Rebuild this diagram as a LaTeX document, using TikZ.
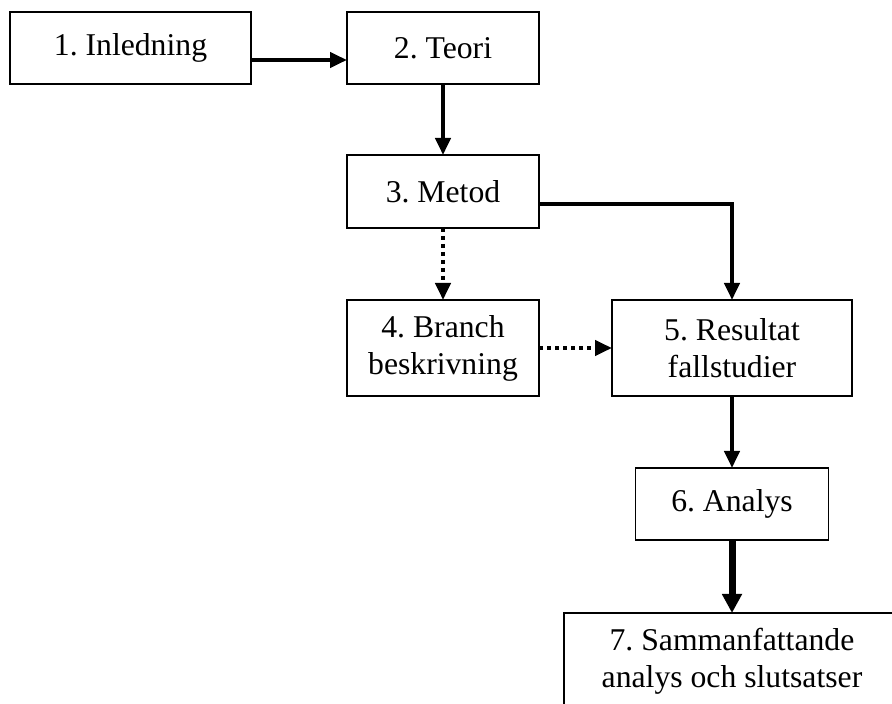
\documentclass[tikz,border=0pt]{standalone}
\usepackage{fontspec}
\setmainfont{Liberation Serif}
\usepackage{tikz}
\usetikzlibrary{positioning,arrows.meta}
\frenchspacing

\begin{document}
\begin{tikzpicture}[
  x=1pt, y=1pt,
  chapter/.style={rectangle, draw=black, line width=1.8pt, outer sep=0pt, inner sep=0pt,
    align=center, font=\fontsize{31.7}{37}\selectfont, minimum height=72pt},
  twoline/.style={chapter, minimum height=96pt},
  arr/.style={-{Triangle[length=17pt,width=15pt]}, line width=4pt},
  dotarr/.style={arr, dash pattern=on 4pt off 4pt},
  bigarr/.style={-{Triangle[length=19pt,width=19pt]}, line width=7pt}
]
  \useasboundingbox (0,0) rectangle (892,704);

  % översta raden
  \node[chapter, minimum width=241pt] (inled) at (130.5,656) {1. Inledning};
  \node[chapter, minimum width=192pt, right=96pt of inled] (teori) {2. Teori};

  % nedåt i mitten
  \node[chapter, minimum width=192pt, minimum height=73pt, below=71pt of teori] (metod) {3. Metod};
  \node[twoline, minimum width=192pt, below=72pt of metod] (branch) {4. Branch\\beskrivning};
  \node[twoline, minimum width=240pt, right=73pt of branch] (result) {5. Resultat\\fallstudier};
  \node[chapter, minimum width=193pt, below=72pt of result] (analys) {6. Analys};
  \node[twoline, minimum width=336pt, below=73pt of analys] (slut) {7. Sammanfattande\\analys och slutsatser};

  % pilar
  \draw[arr] ([yshift=-12pt]inled.east) -- ([yshift=-12pt]teori.west);
  \draw[arr] (teori) -- (metod);
  \draw[dotarr] (metod) -- (branch);
  \draw[dotarr] (branch) -- (result);
  \draw[arr] ([yshift=-12.5pt]metod.east) -| (result.north);
  \draw[arr] (result) -- (analys);
  \draw[bigarr] (analys) -- (slut);
\end{tikzpicture}
\end{document}
